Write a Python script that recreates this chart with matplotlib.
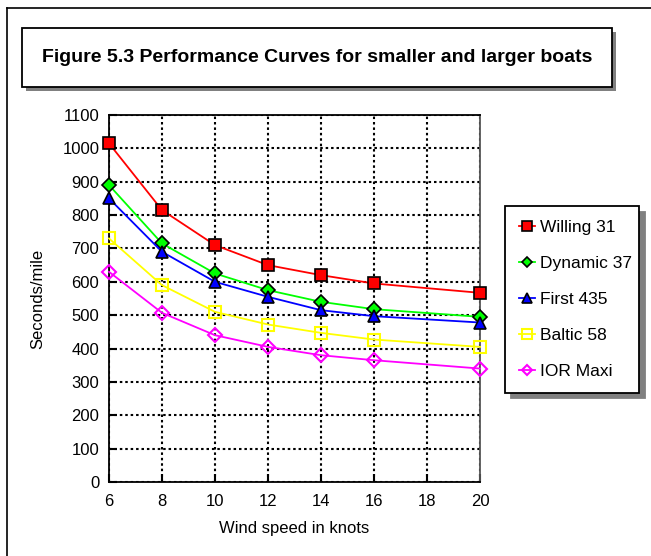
import matplotlib
matplotlib.use("Agg")
import matplotlib.pyplot as plt
from matplotlib.patches import Rectangle
from matplotlib.lines import Line2D

plt.rcParams['font.family'] = ['Liberation Sans', 'DejaVu Sans']

# wind speed (knots)
wind = [6, 8, 10, 12, 14, 16, 20]

# seconds per mile for each boat
willing_31 = [1015, 815, 710, 650, 620, 595, 567]
dynamic_37 = [890, 715, 625, 575, 540, 518, 495]
first_435 = [850, 690, 600, 555, 515, 497, 478]
baltic_58 = [730, 590, 510, 472, 447, 427, 405]
ior_maxi = [630, 507, 440, 405, 380, 365, 340]

labels = ['Willing 31', 'Dynamic 37', 'First 435', 'Baltic 58', 'IOR Maxi']
x_ticks = [6, 8, 10, 12, 14, 16, 18, 20]
y_ticks = list(range(0, 1101, 100))

W, H = 651, 556
fig = plt.figure(figsize=(W / 100, H / 100), dpi=100)

def fx(px):
    return px / W

def fy(py):
    return 1 - py / H

# outer frame (top and left edges visible)
fig.add_artist(Line2D([fx(7), fx(7)], [fy(8), 0], color='black', lw=1.2))
fig.add_artist(Line2D([fx(7), 1], [fy(8), fy(8)], color='black', lw=1.2))

# title box with shadow
fig.add_artist(Rectangle((fx(26), fy(91)), fx(590), 59 / H, facecolor='#808080',
                         edgecolor='none', transform=fig.transFigure))
fig.add_artist(Rectangle((fx(22), fy(87)), fx(590), 59 / H, facecolor='white',
                         edgecolor='black', lw=1.3, transform=fig.transFigure))
fig.text(fx(317), fy(57), 'Figure 5.3 Performance Curves for smaller and larger boats',
         ha='center', va='center', fontsize=14, fontweight='bold')

ax = fig.add_axes([fx(109), fy(482), fx(480 - 109), (482 - 115) / H])

ax.plot(wind, willing_31, color='red', lw=1.3, marker='s', markersize=9,
        markerfacecolor='red', markeredgecolor='black', markeredgewidth=1.2,
        label=labels[0], zorder=5, clip_on=False)
ax.plot(wind, dynamic_37, color='#00ff00', lw=1.3, marker='D', markersize=7,
        markerfacecolor='#00ff00', markeredgecolor='black', markeredgewidth=1.2,
        label=labels[1], zorder=4, clip_on=False)
ax.plot(wind, first_435, color='blue', lw=1.3, marker='^', markersize=9,
        markerfacecolor='blue', markeredgecolor='black', markeredgewidth=1.2,
        label=labels[2], zorder=4, clip_on=False)
ax.plot(wind, baltic_58, color='yellow', lw=1.3, marker='s', markersize=9,
        markerfacecolor='none', markeredgecolor='yellow', markeredgewidth=1.5,
        label=labels[3], zorder=3, clip_on=False)
ax.plot(wind, ior_maxi, color='magenta', lw=1.3, marker='D', markersize=7,
        markerfacecolor='none', markeredgecolor='magenta', markeredgewidth=1.5,
        label=labels[4], zorder=3, clip_on=False)

ax.set_xlim(6, 20)
ax.set_ylim(0, 1100)
ax.set_xticks(x_ticks)
ax.set_yticks(y_ticks)
ax.grid(True, color='black', linestyle=(0, (1.2, 1.4)), lw=1.5)
ax.set_axisbelow(True)
ax.tick_params(axis='both', direction='in', length=6, width=1.5, labelsize=12, color='black')
ax.tick_params(axis='y', pad=7)
ax.tick_params(axis='x', pad=9)
for sp in ax.spines.values():
    sp.set_color('black')
    sp.set_linewidth(1.3)
ax.spines['right'].set_color('#555555')

ax.set_xlabel('Wind speed in knots', fontsize=12, labelpad=8)
ax.set_ylabel('Seconds/mile', fontsize=12, labelpad=12)

handles, lbls = ax.get_legend_handles_labels()
leg = fig.legend(handles, lbls, loc='upper left',
                 bbox_to_anchor=(fx(505), fy(387), fx(134), 181 / H), mode='expand',
                 fontsize=12.5, frameon=True, fancybox=False, edgecolor='black',
                 framealpha=1, borderpad=0.8, labelspacing=1.2, handlelength=0.9,
                 handletextpad=0.3, borderaxespad=0, markerscale=0.8,
                 shadow={'color': '#808080', 'alpha': 1, 'ox': 4, 'oy': -4})
leg.get_frame().set_linewidth(1.3)

fig.savefig('out.png', dpi=100)
